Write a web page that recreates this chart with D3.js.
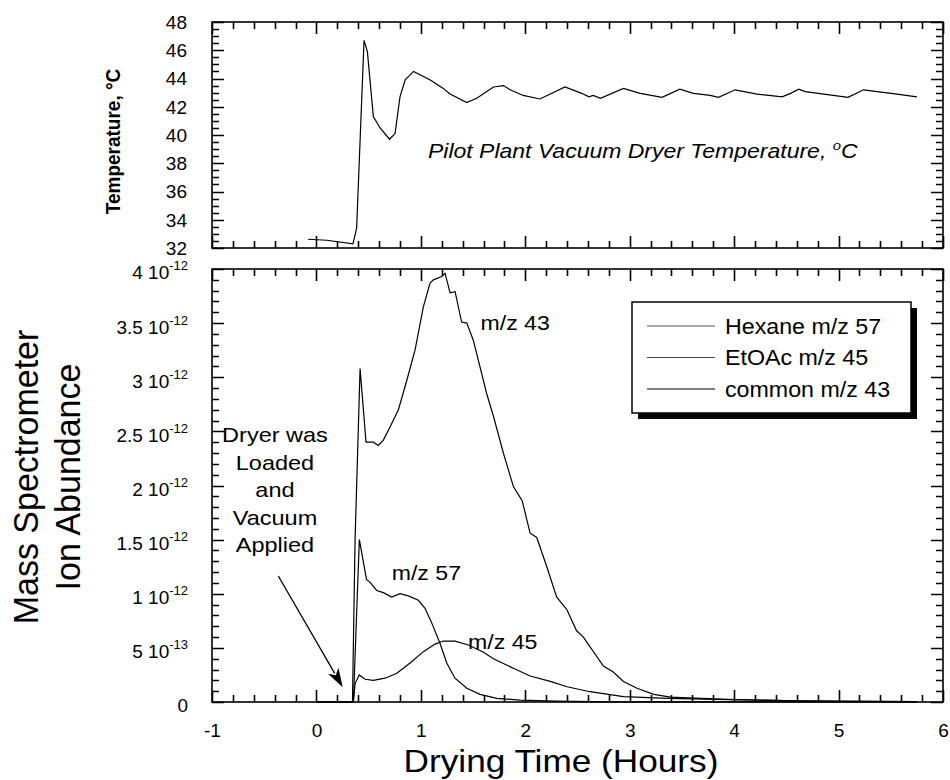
<!DOCTYPE html>
<html>
<head>
<meta charset="utf-8">
<script src="https://cdn.jsdelivr.net/npm/d3@7"></script>
<style>
  body { margin: 0; background: #fff; }
  text { font-family: "Liberation Sans", Arial, Helvetica, sans-serif; fill: #000; }
</style>
</head>
<body>
<script>
// Drying time (hours) and readings

// top panel: dryer temperature, deg C
const tempTime = [-0.08, 0.10, 0.35, 0.385, 0.456, 0.488, 0.545, 0.61, 0.70, 0.753, 0.80, 0.85, 0.93,
  1.09, 1.215, 1.28, 1.44, 1.535, 1.695, 1.79, 1.855, 1.98, 2.14, 2.38, 2.54, 2.61, 2.65, 2.72,
  2.94, 3.10, 3.31, 3.48, 3.61, 3.77, 3.85, 4.01, 4.22, 4.46, 4.54, 4.62, 4.68, 5.09, 5.24, 5.37, 5.56, 5.75];
const tempValue = [32.62, 32.55, 32.3, 33.4, 46.7, 45.9, 41.3, 40.5, 39.7, 40.1, 42.7, 43.9, 44.5,
  43.9, 43.3, 42.9, 42.3, 42.6, 43.4, 43.5, 43.2, 42.8, 42.55, 43.4, 42.95, 42.7, 42.8, 42.6,
  43.3, 42.95, 42.67, 43.25, 42.95, 42.8, 42.67, 43.2, 42.9, 42.7, 42.95, 43.25, 43.07, 42.67, 43.2, 43.07, 42.9, 42.7];

// bottom panel: ion abundance, in units of 1e-12
const commonTime = [0, 0.345, 0.37, 0.418, 0.475, 0.545, 0.593, 0.641, 0.705, 0.785, 0.865, 0.944, 1.024,
  1.088, 1.12, 1.20, 1.232, 1.28, 1.328, 1.39, 1.44, 1.503, 1.63, 1.695, 1.79, 1.886, 1.97, 2.046, 2.11,
  2.206, 2.30, 2.40, 2.49, 2.556, 2.75, 2.84, 2.94, 3.07, 3.23, 3.39, 3.93, 4.6, 5.0, 5.75];
const commonValue = [0, 0, 1.5, 3.08, 2.40, 2.40, 2.37, 2.42, 2.54, 2.70, 2.97, 3.25, 3.65,
  3.87, 3.90, 3.93, 3.96, 3.78, 3.79, 3.51, 3.50, 3.34, 2.85, 2.64, 2.30, 1.99, 1.86, 1.56, 1.52,
  1.25, 0.97, 0.85, 0.66, 0.60, 0.33, 0.28, 0.19, 0.127, 0.071, 0.045, 0.025, 0.01, 0.005, 0.003];

const hexaneTime = [0, 0.354, 0.411, 0.48, 0.51, 0.577, 0.641, 0.72, 0.80, 0.88, 0.976, 1.04, 1.10,
  1.184, 1.248, 1.327, 1.44, 1.567, 1.727, 1.95, 2.30, 2.8, 5.75];
const hexaneValue = [0, 0, 1.50, 1.13, 1.11, 1.03, 1.01, 0.97, 1.00, 0.98, 0.94, 0.865, 0.74,
  0.54, 0.36, 0.22, 0.127, 0.071, 0.034, 0.018, 0.009, 0.002, 0];

const etoacTime = [0, 0.354, 0.37, 0.41, 0.466, 0.545, 0.657, 0.77, 0.897, 1.024, 1.136, 1.216, 1.328,
  1.455, 1.60, 1.695, 1.886, 2.046, 2.24, 2.40, 2.62, 2.94, 3.36, 3.83, 4.6, 5.75];
const etoacValue = [0, 0, 0.17, 0.25, 0.21, 0.20, 0.22, 0.265, 0.36, 0.465, 0.535, 0.563, 0.563,
  0.527, 0.46, 0.40, 0.311, 0.24, 0.19, 0.141, 0.095, 0.049, 0.034, 0.025, 0.01, 0.003];

// tick labels of the abundance axis: mantissa and power of ten
const abundTicks = [0, 0.5, 1, 1.5, 2, 2.5, 3, 3.5, 4];
const abundMant = ["0", "5", "1", "1.5", "2", "2.5", "3", "3.5", "4"];
const abundExp = ["", "-13", "-12", "-12", "-12", "-12", "-12", "-12", "-12"];

const legendLabels = ["Hexane m/z 57", "EtOAc m/z 45", "common m/z 43"];
const legendColors = ["#555", "#444", "#000"];

const svg = d3.select("body").append("svg")
  .attr("width", 950)
  .attr("height", 780);

const left = 212, right = 943;
const top1 = 22, bot1 = 248;
const top2 = 269, bot2 = 702;

const x = d3.scaleLinear().domain([-1, 6]).range([left, right]);
const yT = d3.scaleLinear().domain([32, 48]).range([bot1, top1]);
const yA = d3.scaleLinear().domain([0, 4]).range([bot2, top2]);

const xMajor = d3.range(-1, 7);
const xMinor = d3.range(-1, 6.01, 0.2).filter(v => Math.abs(v - Math.round(v)) > 0.01);

// stretched text: the scanned figure is a bit wider than tall
function label(g, px, py, str, size, sx, opts = {}) {
  const t = g.append("text")
    .attr("transform", `translate(${px},${py}) scale(${sx},1)` + (opts.rot ? ` rotate(${opts.rot})` : ""))
    .attr("font-size", size)
    .attr("text-anchor", opts.anchor || "start")
    .text(str);
  if (opts.weight) t.attr("font-weight", opts.weight);
  if (opts.italic) t.attr("font-style", "italic");
  return t;
}

// inward ticks on all four sides of a panel, as one path
function frameTicks(y, yMajor, yMinor, yTop, yBot) {
  const p = d3.path();
  [[xMajor, 12], [xMinor, 7]].forEach(([vals, len]) => {
    vals.forEach(v => {
      const px = Math.round(x(v)) + 0.5;
      p.moveTo(px, yBot); p.lineTo(px, yBot - len);
      p.moveTo(px, yTop); p.lineTo(px, yTop + len);
    });
  });
  [[yMajor, 12], [yMinor, 7]].forEach(([vals, len]) => {
    vals.forEach(v => {
      const py = Math.round(y(v)) + 0.5;
      p.moveTo(left, py); p.lineTo(left + len, py);
      p.moveTo(right, py); p.lineTo(right - len, py);
    });
  });
  svg.append("path")
    .attr("class", "ticks")
    .attr("d", p.toString())
    .attr("fill", "none")
    .attr("stroke", "#000")
    .attr("stroke-width", 1.6);
}

// ---------- TOP PANEL ----------
const tMajor = d3.range(32, 49, 2);
const tMinor = d3.range(32, 48.01, 0.5).filter(v => v % 2 !== 0);
frameTicks(yT, tMajor, tMinor, top1, bot1);

svg.append("g")
  .attr("transform", `translate(${left},0)`)
  .call(d3.axisLeft(yT).tickValues(tMajor).tickSize(0).tickPadding(25).tickFormat(d => String(d)))
  .call(g => {
    g.select(".domain").remove();
    g.attr("font-family", null).attr("font-size", null);
    g.selectAll("text").attr("font-size", 19).attr("dy", "0.34em");
  });

svg.append("rect")
  .attr("x", left).attr("y", top1)
  .attr("width", right - left).attr("height", bot1 - top1)
  .attr("fill", "none").attr("stroke", "#000").attr("stroke-width", 1.6);

const tempData = tempTime.map((t, i) => [t, tempValue[i]]);
svg.append("path")
  .datum(tempData)
  .attr("fill", "none")
  .attr("stroke", "#000")
  .attr("stroke-width", 1.2)
  .attr("d", d3.line().x(d => x(d[0])).y(d => yT(d[1])));

label(svg, 120, 141.5, "Temperature, °C", 19, 1.05, { rot: -90, anchor: "middle", weight: "bold" });

const pilot = label(svg, x(1.068), yT(38.37), "Pilot Plant Vacuum Dryer Temperature, ", 20, 1.15, { italic: true });
pilot.append("tspan").attr("font-size", 13).attr("dy", -8).text("o");
pilot.append("tspan").attr("dy", 8).text("C");

// ---------- BOTTOM PANEL ----------
const aMinor = d3.range(0, 4.001, 0.1).filter(v => Math.abs(v * 2 - Math.round(v * 2)) > 0.01);
frameTicks(yA, abundTicks, aMinor, top2, bot2);

svg.append("g")
  .attr("transform", `translate(${left},0)`)
  .call(d3.axisLeft(yA).tickValues(abundTicks).tickSize(0).tickPadding(24).tickFormat(""))
  .call(g => {
    g.select(".domain").remove();
    g.attr("font-family", null).attr("font-size", null);
    g.selectAll("text").each(function(d, i) {
      const t = d3.select(this).attr("font-size", 19).attr("dy", "0.52em");
      if (abundExp[i]) {
        t.text(abundMant[i] + " 10");
        t.append("tspan").attr("font-size", 13).attr("dy", -9).text(abundExp[i]);
      } else {
        t.text(abundMant[i]);
      }
    });
  });

svg.append("g")
  .attr("transform", `translate(0,${bot2})`)
  .call(d3.axisBottom(x).tickValues(xMajor).tickSize(0).tickPadding(22).tickFormat(d => String(d)))
  .call(g => {
    g.select(".domain").remove();
    g.attr("font-family", null).attr("font-size", null);
    g.selectAll("text").attr("font-size", 19);
  });

svg.append("rect")
  .attr("x", left).attr("y", top2)
  .attr("width", right - left).attr("height", bot2 - top2)
  .attr("fill", "none").attr("stroke", "#000").attr("stroke-width", 1.6);

const line = d3.line().x(d => x(d[0])).y(d => yA(d[1]));
const series = [
  hexaneTime.map((t, i) => [t, hexaneValue[i]]),
  etoacTime.map((t, i) => [t, etoacValue[i]]),
  commonTime.map((t, i) => [t, commonValue[i]])
];
svg.selectAll(".curve")
  .data(series)
  .join("path")
  .attr("class", "curve")
  .attr("fill", "none")
  .attr("stroke", "#000")
  .attr("stroke-width", 1.2)
  .attr("d", line);

// curve labels
label(svg, x(1.571), yA(3.436), "m/z 43", 21, 1.1);
label(svg, x(0.721), yA(1.127), "m/z 57", 21, 1.1);
label(svg, x(1.452), yA(0.49), "m/z 45", 21, 1.1);

// annotation
const noteLines = ["Dryer was", "Loaded", "and", "Vacuum", "Applied"];
noteLines.forEach((s, i) => {
  label(svg, x(-0.397), yA(2.40 - i * 0.254), s, 21, 1.12, { anchor: "middle" });
});

const a0 = [x(-0.365), yA(1.164)], a1 = [x(0.252), yA(0.136)];
const ang = Math.atan2(a1[1] - a0[1], a1[0] - a0[0]);
const headLen = 19, headW = 6;
const base = [a1[0] - headLen * Math.cos(ang), a1[1] - headLen * Math.sin(ang)];
svg.append("line")
  .attr("x1", a0[0]).attr("y1", a0[1])
  .attr("x2", base[0] + 3 * Math.cos(ang)).attr("y2", base[1] + 3 * Math.sin(ang))
  .attr("stroke", "#000").attr("stroke-width", 1.3);
svg.append("path")
  .attr("d", d3.line()([
    a1,
    [base[0] + headW * Math.sin(ang), base[1] - headW * Math.cos(ang)],
    [base[0] + 5 * Math.cos(ang), base[1] + 5 * Math.sin(ang)],
    [base[0] - headW * Math.sin(ang), base[1] + headW * Math.cos(ang)]
  ]) + "Z")
  .attr("fill", "#000");

// legend with drop shadow
const lg = svg.append("g").attr("transform", "translate(632,302)");
lg.append("rect").attr("x", 6).attr("y", 6).attr("width", 279).attr("height", 111).attr("fill", "#000");
lg.append("rect").attr("width", 279).attr("height", 111)
  .attr("fill", "#fff").attr("stroke", "#000").attr("stroke-width", 1.5);
legendLabels.forEach((s, i) => {
  const ly = 24 + i * 31.5;
  lg.append("line")
    .attr("x1", 15).attr("x2", 83).attr("y1", ly).attr("y2", ly)
    .attr("stroke", legendColors[i]).attr("stroke-width", 1.1);
  label(lg, 93, ly + 7.5, s, 21.5, 1.08);
});

// axis titles
label(svg, 561, 772, "Drying Time (Hours)", 32, 1.1, { anchor: "middle" });
label(svg, 38, 477, "Mass Spectrometer", 34, 1.04, { rot: -90, anchor: "middle" });
label(svg, 80, 477, "Ion Abundance", 34, 1.04, { rot: -90, anchor: "middle" });
</script>
</body>
</html>
